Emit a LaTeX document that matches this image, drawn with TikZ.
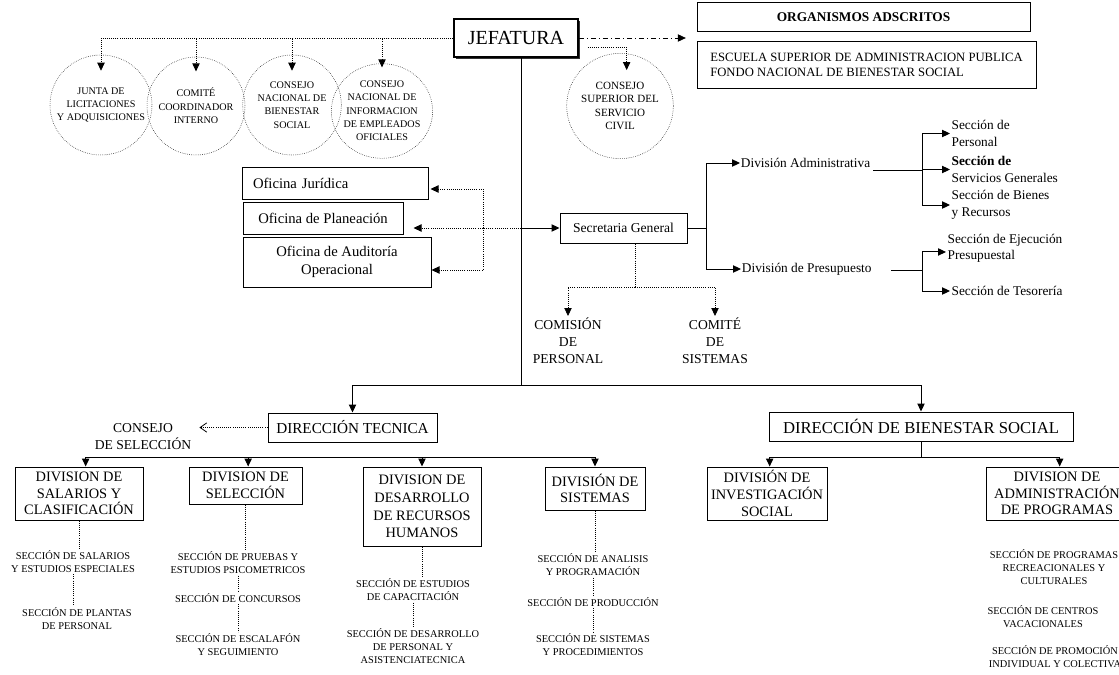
\documentclass[tikz,border=0pt]{standalone}
\usepackage{fontspec}
\setmainfont{Liberation Serif}
\usetikzlibrary{arrows.meta,positioning,shapes.geometric,shadows}

\begin{document}
\begin{tikzpicture}[x=0.75pt, y=-0.75pt,
  every node/.style={font=\fontsize{10}{12.4}\selectfont, inner sep=1pt},
  box/.style={draw, line width=0.75pt, inner sep=2pt, align=center, font=\fontsize{10.8}{12.5}\selectfont},
  oval/.style={draw, densely dotted, ellipse, inner sep=-10pt, align=center, font=\fontsize{7.6}{10}\selectfont},
  sec/.style={align=center, font=\fontsize{7.8}{9.8}\selectfont},
  lbl/.style={align=left, anchor=west},
  big/.style={align=center, font=\fontsize{10.2}{12.75}\selectfont},
  link/.style={line width=0.75pt},
  arr/.style={link, -{Triangle[length=6pt,width=5.5pt]}},
  dotlink/.style={densely dotted, line width=0.6pt},
  dotarr/.style={dotlink, -{Triangle[length=6pt,width=5.5pt]}}
]
\useasboundingbox (0,0) rectangle (1119,674);

% top level
\node[box, line width=1.2pt, fill=white, minimum width=93pt, minimum height=28.5pt,
  font=\fontsize{15}{18}\selectfont,
  drop shadow={shadow xshift=1.5pt, shadow yshift=-1.5pt, fill=black!80, opacity=1}] (jef) at (516,38) {JEFATURA};
\node[box, minimum width=249.75pt, minimum height=21.75pt, font=\bfseries\fontsize{10}{12}\selectfont] (org) at (863.5,17.5) {ORGANISMOS ADSCRITOS};
\node[box, align=left, minimum width=254.25pt, minimum height=34.5pt, font=\fontsize{9.5}{10.7}\selectfont,
  below=6.75pt of org, xshift=2.25pt] (esc) {ESCUELA SUPERIOR DE ADMINISTRACION PUBLICA\\FONDO NACIONAL DE BIENESTAR SOCIAL};

% consejos y comites
\node[oval, minimum width=76.5pt, minimum height=75pt] (jla) at (101,105) {JUNTA DE\\LICITACIONES\\Y ADQUISICIONES};
\node[oval, minimum width=73.5pt, minimum height=73.5pt] (cci) at (196,106) {COMITÉ\\COORDINADOR\\INTERNO};
\node[oval, minimum width=74pt, minimum height=75pt] (cnb) at (292,105) {CONSEJO\\NACIONAL DE\\BIENESTAR\\SOCIAL};
\node[oval, minimum width=76pt, minimum height=71pt] (cni) at (382,111) {CONSEJO\\NACIONAL DE\\INFORMACION\\DE EMPLEADOS\\OFICIALES};
\node[oval, minimum width=80pt, minimum height=79pt, font=\fontsize{8.3}{10.2}\selectfont] (css) at (620,106) {CONSEJO\\SUPERIOR DEL\\SERVICIO\\CIVIL};

% oficinas asesoras
\node[box, font=\fontsize{11}{13.5}\selectfont, text width=123pt, inner xsep=8.25pt, minimum height=24pt, align=left] (ojur) at (335,183) {Oficina Jurídica};
\node[box, font=\fontsize{11}{13.5}\selectfont, minimum width=120pt, minimum height=24pt] (oplan) at (323,218) {Oficina de Planeación};
\node[box, font=\fontsize{11}{13.5}\selectfont, minimum width=141pt, minimum height=37.5pt] (oaud) at (337,262) {Oficina de Auditoría\\Operacional};

% secretaria general
\node[box, font=\fontsize{10.2}{12}\selectfont, minimum width=95.25pt, minimum height=22.5pt] (sg) at (623.5,228) {Secretaria General};
\node[anchor=west, inner sep=0.5pt] (divadm) at (740,163) {División Administrativa};
\node[anchor=west, inner sep=0.5pt] (divpre) at (741,269) {División de Presupuesto};
\node[lbl] (sper) at (950,133.5) {Sección de\\Personal};
\node[lbl] (ssg) at (950,169.5) {\textbf{Sección de}\\Servicios Generales};
\node[lbl] (sbr) at (950,205) {Sección de Bienes\\y Recursos};
\node[lbl] (sejec) at (946,248.5) {Sección de Ejecución\\Presupuestal};
\node[lbl] (stes) at (950,291) {Sección de Tesorería};
\node[big, anchor=north] (cper) at (568,316) {COMISIÓN\\DE\\PERSONAL};
\node[big, anchor=north] (csis) at (715,316) {COMITÉ\\DE\\SISTEMAS};

% direcciones
\node[box, font=\fontsize{11.4}{13}\selectfont, minimum width=126.75pt, minimum height=21.75pt] (dtec) at (352.5,427.5) {DIRECCIÓN TECNICA};
\node[box, font=\fontsize{12.5}{14}\selectfont, minimum width=228pt, minimum height=21.75pt] (dbs) at (921,426.5) {DIRECCIÓN DE BIENESTAR SOCIAL};
\node[big] (cds) at (143,436.5) {CONSEJO\\DE SELECCIÓN};

% divisiones
\node[box, minimum width=96pt, minimum height=39.75pt] (dsal) at (79,493.5) {DIVISION DE\\SALARIOS Y\\CLASIFICACIÓN};
\node[box, minimum width=84.75pt, minimum height=27.75pt] (dsel) at (245.5,485.5) {DIVISION DE\\SELECCIÓN};
\node[box, minimum width=88.5pt, minimum height=59.25pt, font=\fontsize{10.8}{13.3}\selectfont] (ddes) at (422,506.5) {DIVISION DE\\DESARROLLO\\DE RECURSOS\\HUMANOS};
\node[box, minimum width=75pt, minimum height=32.25pt] (dsis) at (595,488.5) {DIVISIÓN DE\\SISTEMAS};
\node[box, minimum width=90pt, minimum height=39.75pt] (dinv) at (767,493.5) {DIVISIÓN DE\\INVESTIGACIÓN\\SOCIAL};
\node[box, minimum width=106.5pt, minimum height=39.75pt] (dadm) at (1057,493.5) {DIVISION DE\\ADMINISTRACIÓN\\DE PROGRAMAS};

% secciones
\node[sec] (s11) at (73,561.5) {SECCIÓN DE SALARIOS\\Y ESTUDIOS ESPECIALES};
\node[sec] (s12) at (77,618.5) {SECCIÓN DE PLANTAS\\DE PERSONAL};
\node[sec] (s21) at (238,563) {SECCIÓN DE PRUEBAS Y\\ESTUDIOS PSICOMETRICOS};
\node[sec] (s22) at (238,598) {SECCIÓN DE CONCURSOS};
\node[sec] (s23) at (238,644.5) {SECCIÓN DE ESCALAFÓN\\Y SEGUIMIENTO};
\node[sec] (s31) at (413,590) {SECCIÓN DE ESTUDIOS\\DE CAPACITACIÓN};
\node[sec] (s32) at (413,646) {SECCIÓN DE DESARROLLO\\DE PERSONAL Y\\ASISTENCIATECNICA};
\node[sec] (s41) at (593,565) {SECCIÓN DE ANALISIS\\Y PROGRAMACIÓN};
\node[sec] (s42) at (593,602) {SECCIÓN DE PRODUCCIÓN};
\node[sec] (s43) at (593,644.5) {SECCIÓN DE SISTEMAS\\Y PROCEDIMIENTOS};
\node[sec] (s51) at (1054,567) {SECCIÓN DE PROGRAMAS\\RECREACIONALES Y\\CULTURALES};
\node[sec] (s52) at (1043,616.5) {SECCIÓN DE CENTROS\\VACACIONALES};
\node[sec] (s53) at (1055,657) {SECCIÓN DE PROMOCIÓN\\INDIVIDUAL Y COLECTIVA};

% connectors
\coordinate (spine) at (521,385);
\coordinate (obus) at (483,228);
\coordinate (sgbus) at (706,228);
\coordinate (admbus) at (922,170);
\coordinate (prebus) at (922,270);
\coordinate (sgdot) at (635,287);
\coordinate (tbar) at (353,457);
\coordinate (bbar) at (921,457);

\foreach \e/\d in {jla/-12pt,cci/-11pt,cnb/-12pt,cni/-3pt}
  \draw[dotarr] (jef.west) -| ([yshift=\d]\e.north);
\draw[dotarr] ([xshift=6.75pt,yshift=-6.75pt]jef.east) -| ([xshift=5pt,yshift=-12.75pt]css.north);
\draw[line width=0.6pt, dash pattern=on 4pt off 2pt on 1pt off 2pt, -{Triangle[length=6pt,width=5.5pt]}]
  (jef.east) -- ([xshift=-8pt]jef.east -| org.west);

\draw[link] (jef.south -| spine) -- (spine);
\draw[arr] (spine) -| (dtec);
\draw[arr] (spine) -| (dbs);
\draw[arr] (spine |- sg) -- (sg);
\draw[dotarr] (spine |- sg) -- ([xshift=7.5pt]oplan.east |- sg);
\draw[dotarr] (obus) |- ([xshift=1.5pt,yshift=-4.5pt]ojur.east);
\draw[dotarr] (obus) |- ([yshift=-6pt]oaud.east);

\draw[link] (sg) -- (sgbus);
\draw[arr] (sgbus) |- (divadm);
\draw[arr] (sgbus) |- (divpre);
\draw[link] ([xshift=1.5pt]divadm.east |- admbus) -- (admbus);
\foreach \s in {sper,ssg,sbr}
  \draw[arr] (admbus) |- (\s);
\draw[link] ([xshift=14pt]divpre.east |- prebus) -- (prebus);
\draw[arr] (prebus) |- ([yshift=-2.6pt]sejec.west);
\draw[arr] (prebus) |- (stes);

\draw[dotlink] (sg.south -| sgdot) -- (sgdot);
\draw[dotarr] (sgdot) -| (cper);
\draw[dotarr] (sgdot) -| (csis);

\draw[dotlink, -{Straight Barb[length=5pt,width=7pt]}] (dtec.west) -- ([xshift=5pt]dtec.west -| cds.east);
\foreach \d/\x in {dsal/5pt,dsel/2pt,ddes/0pt,dsis/0pt}
  \draw[arr] (tbar) -| ([xshift=\x]\d.north);
\draw[link] (dbs) -- (bbar);
\draw[arr] (bbar) -| ([xshift=2pt]dinv.north);
\draw[arr] (bbar) -| ([xshift=2pt]dadm.north);

\foreach \a/\b in {dsal/s11,s11/s12,dsel/s21,s21/s22,s22/s23,ddes/s31,s31/s32,dsis/s41,s41/s42,s42/s43}
  \draw[dotlink] (\a.south) -- (\a.south |- \b.north);
\end{tikzpicture}
\end{document}
